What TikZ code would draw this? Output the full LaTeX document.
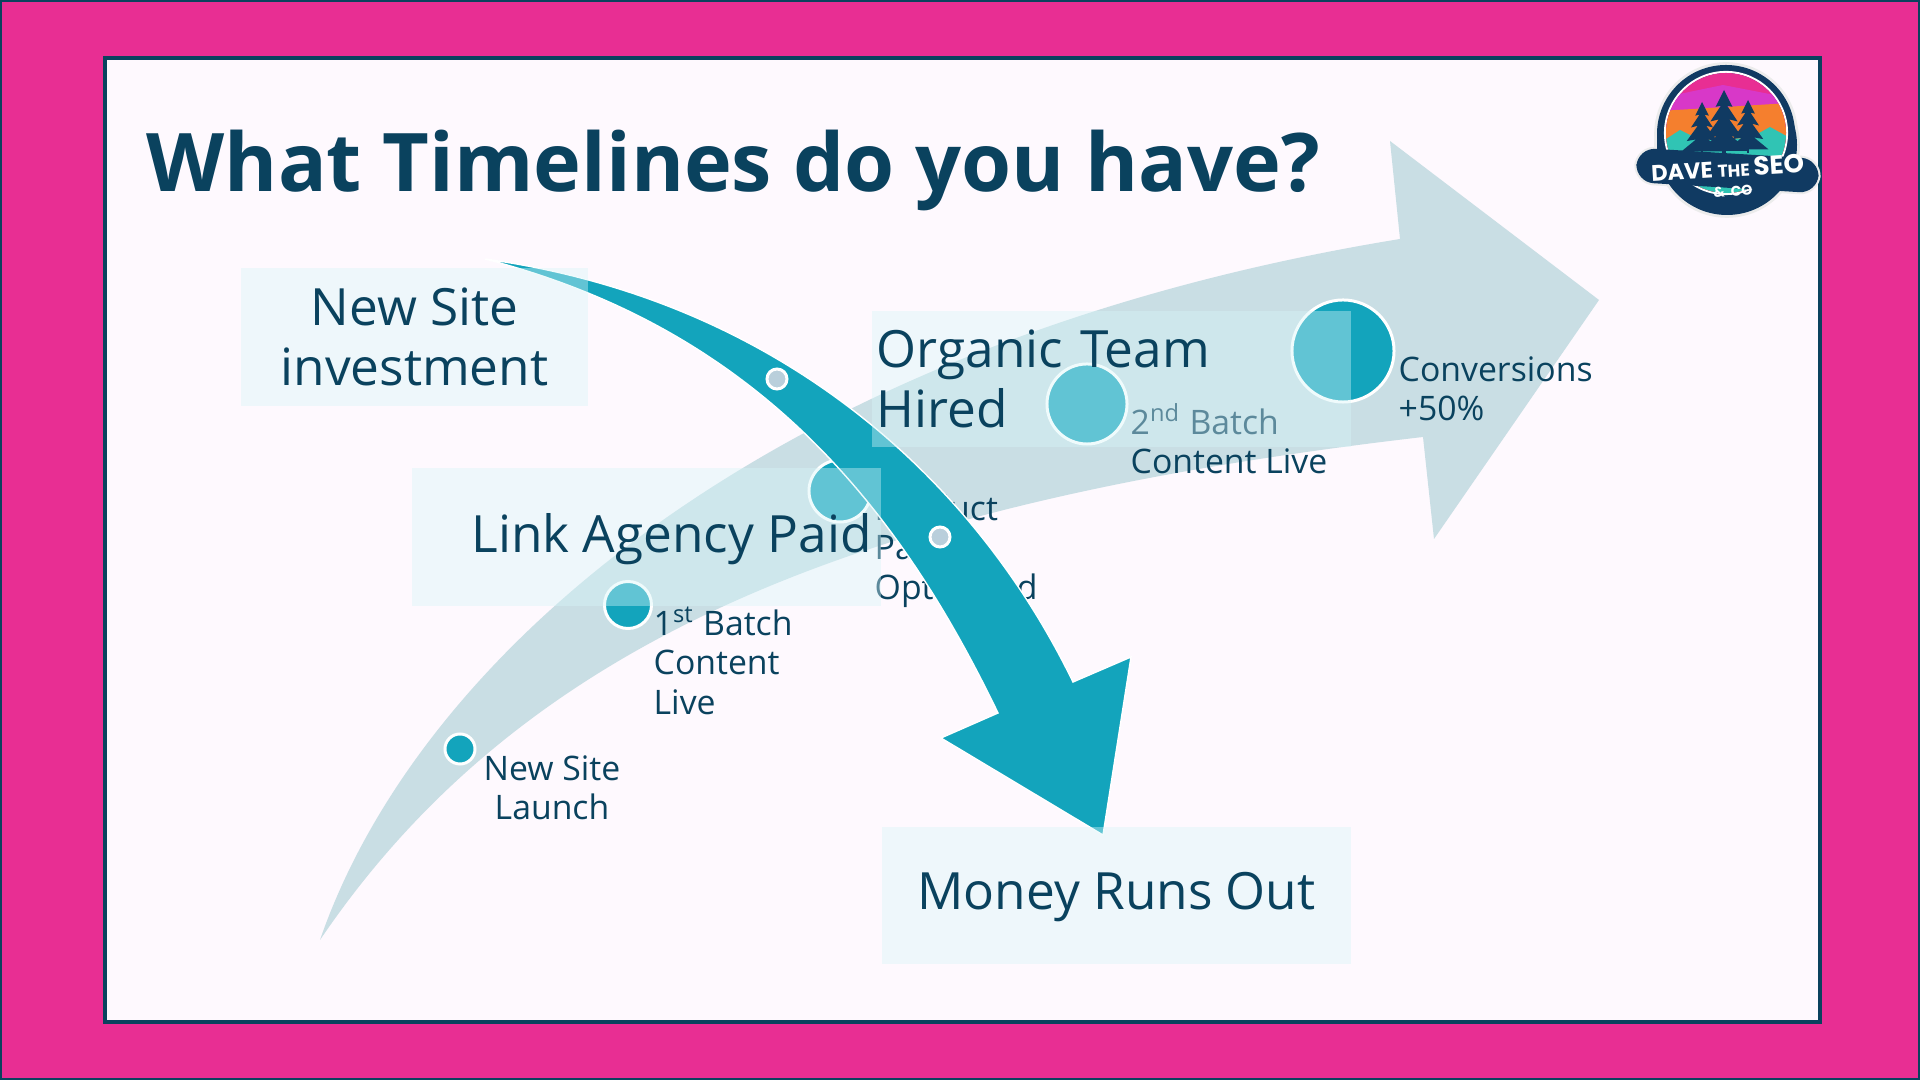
\documentclass[tikz,border=0pt]{standalone}
\usepackage{fontspec}
\usepackage{tikz}
\usepackage{xcolor}
\usetikzlibrary{positioning}
\setmainfont{Open Sans}
\newfontfamily\logofont{Poppins}
\definecolor{FrameMid}{RGB}{232,46,147}
\definecolor{PanelLight}{RGB}{254,249,254}
\definecolor{NavyDark}{RGB}{10,66,94}
\definecolor{LogoNavy}{RGB}{16,58,98}
\definecolor{TealMid}{RGB}{19,164,188}
\definecolor{ArrowLight}{RGB}{201,222,228}
\definecolor{BoxLight}{RGB}{215,245,248}
\definecolor{PinDot}{RGB}{185,207,219}
\definecolor{LogoViolet}{RGB}{216,56,200}
\definecolor{LogoOrange}{RGB}{245,127,46}
\definecolor{LogoGreen}{RGB}{48,196,180}
\newcommand{\logotree}[3]{%
  \begin{scope}[shift={(#1,#2)},scale=#3]
    \fill[LogoNavy] (-1.5,40) rectangle (1.5,62);
    \fill[LogoNavy] (0,0) -- (8,16) -- (3,15) -- (13,30) -- (5,28) -- (18,46) -- (7,44) -- (24,58)
      -- (-24,58) -- (-7,44) -- (-18,46) -- (-5,28) -- (-13,30) -- (-3,15) -- (-8,16) -- cycle;
  \end{scope}}
\begin{document}
\begin{tikzpicture}[x=0.01cm,y=-0.01cm,
    box/.style={fill=BoxLight,fill opacity=.4,text opacity=1,text=NavyDark,inner sep=0pt,
                font=\fontsize{14.6}{17.1}\selectfont,align=center},
    lbl/.style={text=NavyDark,inner sep=0pt,font=\fontsize{9.6}{11.25}\selectfont},
    dot/.style={circle,fill=TealMid,draw=white,line width=.85pt,inner sep=0pt},
    pin/.style={circle,fill=PinDot,draw=white,line width=.85pt,inner sep=0pt,minimum size=.2cm},
    halo/.style={draw=white!85!gray,line width=1.6pt}
  ]
  \useasboundingbox (0,0) rectangle (1920,1080);
  \fill[FrameMid] (0,0) rectangle (1920,1080);
  \draw[NavyDark,line width=.9pt] (0,0) rectangle (1920,1080);
  \draw[NavyDark,line width=1.1pt,fill=PanelLight] (105,58) rectangle (1820,1022);

  \fill[ArrowLight] (320,940) .. controls (420,650) and (780,340) .. (1400,239)
    -- (1390,141) -- (1599,300) -- (1434,539) -- (1423,437)
    .. controls (880,500) and (530,630) .. (320,940) -- cycle;

  \node[dot,minimum size=.3cm] (launch) at (460,749) {};
  \node[dot,minimum size=.47cm] (first) at (628,605) {};
  \node[dot,minimum size=.62cm] (product) at (840,491) {};
  \node[dot,minimum size=.8cm] (second) at (1087,404) {};
  \node[dot,minimum size=1.02cm] (conv) at (1343,351) {};

  \node[lbl,align=center] (launchtxt) at (552,788) {New Site\\Launch};
  \node[lbl,align=left,anchor=west] (firsttxt) at (653,661) {1\textsuperscript{st} Batch\\Content\\Live};
  \node[lbl,align=left,anchor=west] (producttxt) at (874,551) {Product\\Page\\Optimized};
  \node[lbl,align=left,anchor=west] (secondtxt) at (1130,439) {2\textsuperscript{nd} Batch\\Content Live};
  \node[lbl,align=left,anchor=west] (convtxt) at (1398,389) {Conversions\\+50\%};

  \path[fill=TealMid,draw=white,line width=.4pt] (485,259) .. controls (780,300) and (975,480) .. (1073,682)
    -- (1131,657) -- (1103,835) -- (941,738) -- (998,713)
    .. controls (900,510) and (760,330) .. (485,259) -- cycle;
  \node[pin] (pina) at (777,379) {};
  \node[pin] (pinb) at (940,537) {};

  \node[box,minimum width=3.47cm,minimum height=1.37cm] (invest) at (414.5,337) {New Site\\investment};
  \node[box,minimum width=4.69cm,minimum height=1.37cm] (agency) at (646.5,537) {\hspace*{.5cm}\raisebox{-4.5pt}[0pt][0pt]{Link Agency Paid}};
  \node[box,minimum width=4.79cm,minimum height=1.36cm,align=left,text width=4.69cm] (team) at (1111.5,379) {Organic Team\\Hired};
  \node[box,minimum width=4.69cm,minimum height=1.37cm] (money) at (1116.5,895.5) {\raisebox{-4.1pt}[0pt][0pt]{Money Runs Out}};

  \node[anchor=base west,inner sep=0pt,text=NavyDark,font=\fontsize{23}{28}\selectfont\bfseries] (title) at (146,192) {What Timelines do you have?};

  \draw[halo] (1726,134) circle (69);
  \draw[halo] (1727,145) circle (70);
  \draw[halo,rotate around={-3.5:(1727,170)},rounded corners=5pt] (1637,154) rectangle (1818,187);
  \fill[LogoNavy] (1726,134) circle (69);
  \fill[LogoNavy] (1727,145) circle (70);
  \draw[white,line width=.6pt] (1726,133) circle (61);
  \begin{scope}
    \clip (1726,133) circle (60);
    \fill[FrameMid] (1660,70) rectangle (1790,200);
    \fill[LogoViolet] (1660,98) -- (1723,85) -- (1790,98) -- (1790,200) -- (1660,200) -- cycle;
    \fill[LogoOrange] (1660,111) -- (1790,103) -- (1790,200) -- (1660,200) -- cycle;
    \fill[LogoGreen] (1660,143) -- (1680,130) -- (1700,140) -- (1750,138) -- (1770,127) -- (1790,138) -- (1790,200) -- (1660,200) -- cycle;
    \logotree{1724}{90}{1.05}
    \logotree{1702}{102}{.85}
    \logotree{1748}{100}{.85}
  \end{scope}
  \draw[LogoNavy,fill=LogoNavy,rotate around={-3.5:(1727,170)},rounded corners=5pt] (1637,154) rectangle (1818,187);
  \node[inner sep=0pt,rotate=3.5,text=white,font=\logofont\bfseries\fontsize{6.4}{6.4}\selectfont] (logoname) at (1728,168)
    {DAVE {\fontsize{4.9}{6.4}\selectfont THE} {\fontsize{7.4}{6.4}\selectfont SEO}};
  \node[inner sep=0pt,rotate=3.5,text=white,font=\logofont\bfseries\fontsize{4}{4}\selectfont] (logoco) at (1733,191) {\&~~CO};
\end{tikzpicture}
\end{document}
